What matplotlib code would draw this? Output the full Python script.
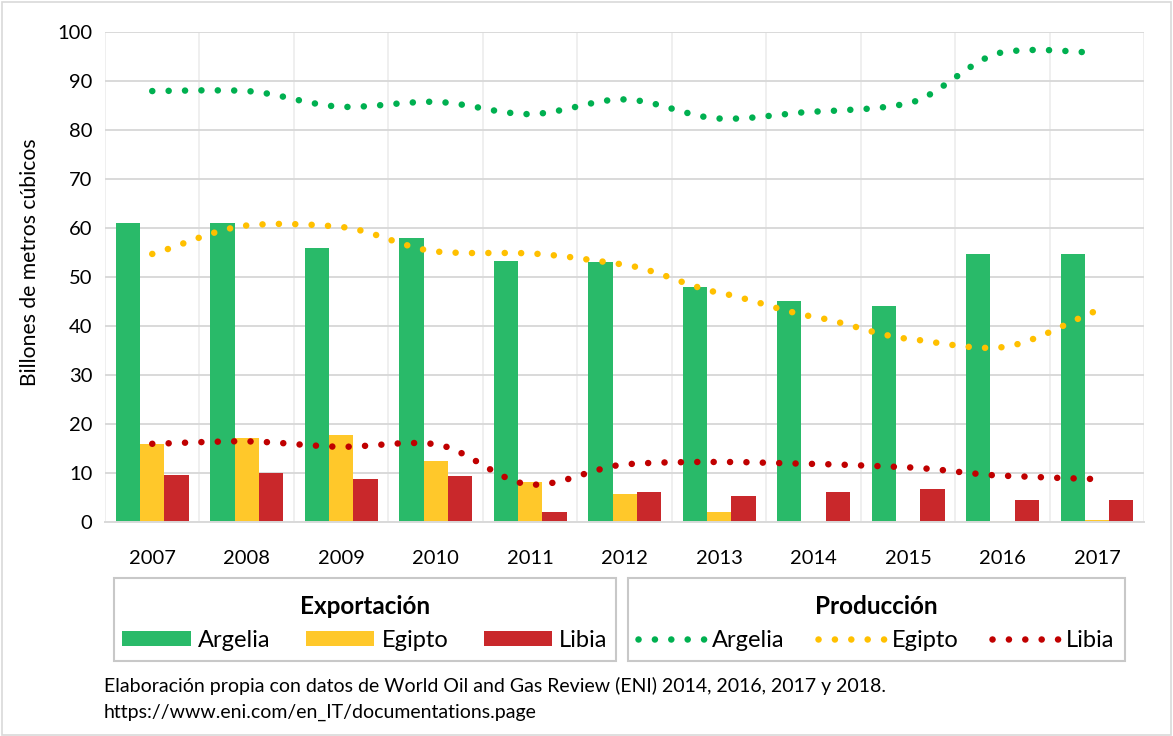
import matplotlib
matplotlib.use('Agg')
import matplotlib.pyplot as plt
from matplotlib.path import Path
from matplotlib.patches import PathPatch, Rectangle, Patch
from matplotlib.lines import Line2D
import numpy as np

plt.rcParams['font.family'] = ['Lato', 'DejaVu Sans']

# Data (billones de m3)
years = ['2007', '2008', '2009', '2010', '2011', '2012', '2013', '2014', '2015', '2016', '2017']
countries = ['Argelia', 'Egipto', 'Libia']

export_argelia = [61.1, 61.1, 55.9, 58.0, 53.3, 53.0, 48.0, 45.1, 44.0, 54.6, 54.6]
export_egipto = [16.0, 17.1, 17.7, 12.5, 8.2, 5.8, 2.0, 0.3, 0.2, 0.2, 0.4]
export_libia = [9.6, 10.0, 8.8, 9.4, 2.2, 6.1, 5.4, 6.2, 6.8, 4.5, 4.6]

prod_argelia = [87.9, 87.9, 84.7, 85.7, 83.2, 86.2, 82.3, 83.7, 85.4, 95.8, 95.7]
prod_egipto = [54.7, 60.5, 60.2, 55.2, 54.8, 52.5, 46.8, 41.9, 37.4, 35.7, 43.1]
prod_libia = [16.0, 16.5, 15.4, 15.9, 7.7, 11.8, 12.3, 11.9, 11.2, 9.5, 8.8]

bar_colors = ['#29BA69', '#FFC82A', '#C9282B']
line_colors = ['#00B050', '#FFC000', '#C00000']


def smooth_path(xs, ys, k=0.11):
    # smoothed line drawn as cubic Bezier segments through the data points
    pts = list(zip(xs, ys))
    n = len(pts)
    verts = [pts[0]]
    codes = [Path.MOVETO]
    for i in range(n - 1):
        p0 = pts[max(i - 1, 0)]
        p1 = pts[i]
        p2 = pts[i + 1]
        p3 = pts[min(i + 2, n - 1)]
        c1 = (p1[0] + (p2[0] - p0[0]) / 6, p1[1] + (p2[1] - p0[1]) * k)
        c2 = (p2[0] - (p3[0] - p1[0]) / 6, p2[1] - (p3[1] - p1[1]) * k)
        verts += [c1, c2, p2]
        codes += [Path.CURVE4] * 3
    return Path(verts, codes)


W, H = 1173, 736
fig = plt.figure(figsize=(W / 100, H / 100), dpi=100)
ax = fig.add_axes([105 / W, 1 - 522.3 / H, (1144.3 - 105) / W, (522.3 - 31.7) / H])

x = np.arange(len(years))
bw = 0.257
for off, vals, c, lab in zip([-bw, 0, bw], [export_argelia, export_egipto, export_libia],
                             bar_colors, countries):
    ax.bar(x + off, vals, width=bw, color=c, zorder=2, label=lab)

dot_lw = 4.7
dot_style = (0, (0.01, 2.5))
for vals, c in zip([prod_argelia, prod_egipto, prod_libia], line_colors):
    pp = PathPatch(smooth_path(x, vals), facecolor='none', edgecolor=c, lw=dot_lw,
                   linestyle=dot_style, zorder=3)
    pp.set_capstyle('round')
    ax.add_patch(pp)

ax.set_xlim(-0.5, 10.5)
ax.set_ylim(0, 100)
ax.set_yticks(np.arange(0, 101, 10))
ax.set_xticks(x)
ax.set_xticklabels(years)
ax.set_xticks(np.arange(-0.5, 10.6, 0.5), minor=True)
ax.yaxis.grid(True, color='#d9d9d9', lw=1.4, zorder=0)
ax.xaxis.grid(True, which='minor', color='#eeeeee', lw=1.3, zorder=0)
ax.set_axisbelow(True)
ax.tick_params(which='both', length=0)
ax.tick_params(axis='x', pad=20, labelsize=14.5)
ax.tick_params(axis='y', pad=9, labelsize=14.5)
for s in ['top', 'left', 'right']:
    ax.spines[s].set_visible(False)
ax.spines['bottom'].set_color('#d9d9d9')
ax.spines['bottom'].set_linewidth(1.4)

fig.text(30 / W, 1 - 262 / H, 'Billones de metros cúbicos', rotation=90,
         ha='center', va='center', fontsize=15.2)

# legend boxes
for x0, x1 in [(114, 616), (628, 1125)]:
    fig.patches.append(Rectangle((x0 / W, 1 - 661 / H), (x1 - x0) / W, 83 / H,
                                 transform=fig.transFigure, fill=False,
                                 edgecolor='#c8c8c8', lw=1.5))

bar_handles = [Patch(facecolor=c) for c in bar_colors]
fig.legend(bar_handles, countries, ncol=3, title='Exportación', loc='center',
           bbox_to_anchor=(365 / W, 1 - 623 / H), frameon=False, fontsize=17,
           title_fontproperties={'weight': 'bold', 'size': 17.5},
           handlelength=2.9, handleheight=0.64, handletextpad=0.3, columnspacing=1.5)

line_handles = [Line2D([], [], color=c, lw=dot_lw, linestyle=dot_style, dash_capstyle='round')
                for c in line_colors]
fig.legend(line_handles, countries, ncol=3, title='Producción', loc='center',
           bbox_to_anchor=(876 / W, 1 - 623 / H), frameon=False, fontsize=17,
           title_fontproperties={'weight': 'bold', 'size': 17.5},
           handlelength=3.0, handletextpad=0.15, columnspacing=1.4)

fig.text(104 / W, 1 - 686 / H,
         'Elaboración propia con datos de World Oil and Gas Review (ENI) 2014, 2016, 2017 y 2018.',
         fontsize=14, va='center')
fig.text(104 / W, 1 - 712 / H, 'https://www.eni.com/en_IT/documentations.page',
         fontsize=14, va='center')

fig.patches.append(Rectangle((2 / W, 1 / H), (W - 4) / W, (H - 3) / H,
                             transform=fig.transFigure, fill=False,
                             edgecolor='#d9d9d9', lw=1.2))

fig.savefig('out.png', dpi=100)
